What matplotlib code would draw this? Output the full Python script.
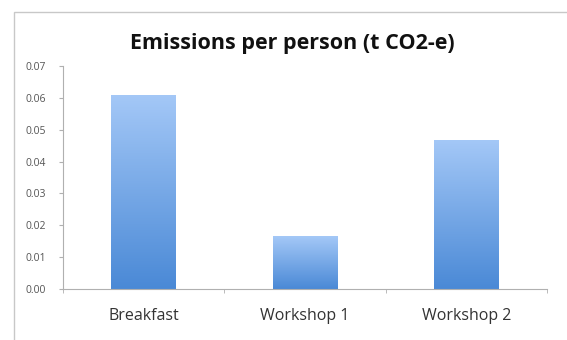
import matplotlib
matplotlib.use("Agg")
import matplotlib.pyplot as plt
import numpy as np
from matplotlib.colors import LinearSegmentedColormap
from matplotlib.patches import Rectangle

categories = ["Breakfast", "Workshop 1", "Workshop 2"]
values = [0.061, 0.0166, 0.0468]
yticks = [0.00, 0.01, 0.02, 0.03, 0.04, 0.05, 0.06, 0.07]
title = "Emissions per person (t CO2-e)"

plt.rcParams['font.family'] = ['Open Sans', 'DejaVu Sans']

fig = plt.figure(figsize=(5.67, 3.4), dpi=100)
fig.patch.set_facecolor("white")

# chart frame (light gray)
frame = Rectangle((14/567, -0.1), 1.2, 1 - 12/340 + 0.1, transform=fig.transFigure,
                  fill=False, edgecolor="#c8c8c8", linewidth=1.0)
fig.patches.append(frame)

ax = fig.add_axes([63/567, 1 - 289/340, (547 - 63)/567, (289 - 66)/340])
x = np.arange(len(categories))
bars = ax.bar(x, values, width=0.4, color="none", edgecolor="none", zorder=2)

cmap = LinearSegmentedColormap.from_list("g", ["#4a89d6", "#a4c8f7"])
grad = np.linspace(0, 1, 256).reshape(-1, 1)
for b in bars:
    x0, y0 = b.get_x(), b.get_y()
    w, h = b.get_width(), b.get_height()
    im = ax.imshow(grad, cmap=cmap, origin="lower", aspect="auto",
                   extent=[x0, x0 + w, y0, y0 + h], zorder=2)
    im.set_clip_path(b)

ax.set_xlim(-0.5, len(categories) - 0.5)
ax.set_ylim(0, 0.07)
ax.set_yticks(yticks)
ax.set_yticklabels([f"{v:.2f}" for v in yticks], fontsize=7.5, color="#555555")
ax.set_xticks(x)
ax.set_xticklabels(categories, fontsize=11.5, color="#333333")
ax.set_xticks(np.arange(len(categories) + 1) - 0.5, minor=True)
ax.tick_params(axis="x", which="major", length=0, pad=14)
ax.tick_params(axis="x", which="minor", length=3, color="#b0b0b0", direction="out")
ax.tick_params(axis="y", length=3, color="#b0b0b0", direction="out", pad=9)

for s in ["top", "right"]:
    ax.spines[s].set_visible(False)
ax.spines["left"].set_color("#b0b0b0")
ax.spines["bottom"].set_color("#b0b0b0")
ax.spines["left"].set_linewidth(0.8)
ax.spines["bottom"].set_linewidth(0.8)

fig.text(292/567, 1 - 44/340, title, ha="center", va="center",
         fontsize=15.5, fontweight="bold", color="#111111")

fig.savefig("out.png", dpi=100)
